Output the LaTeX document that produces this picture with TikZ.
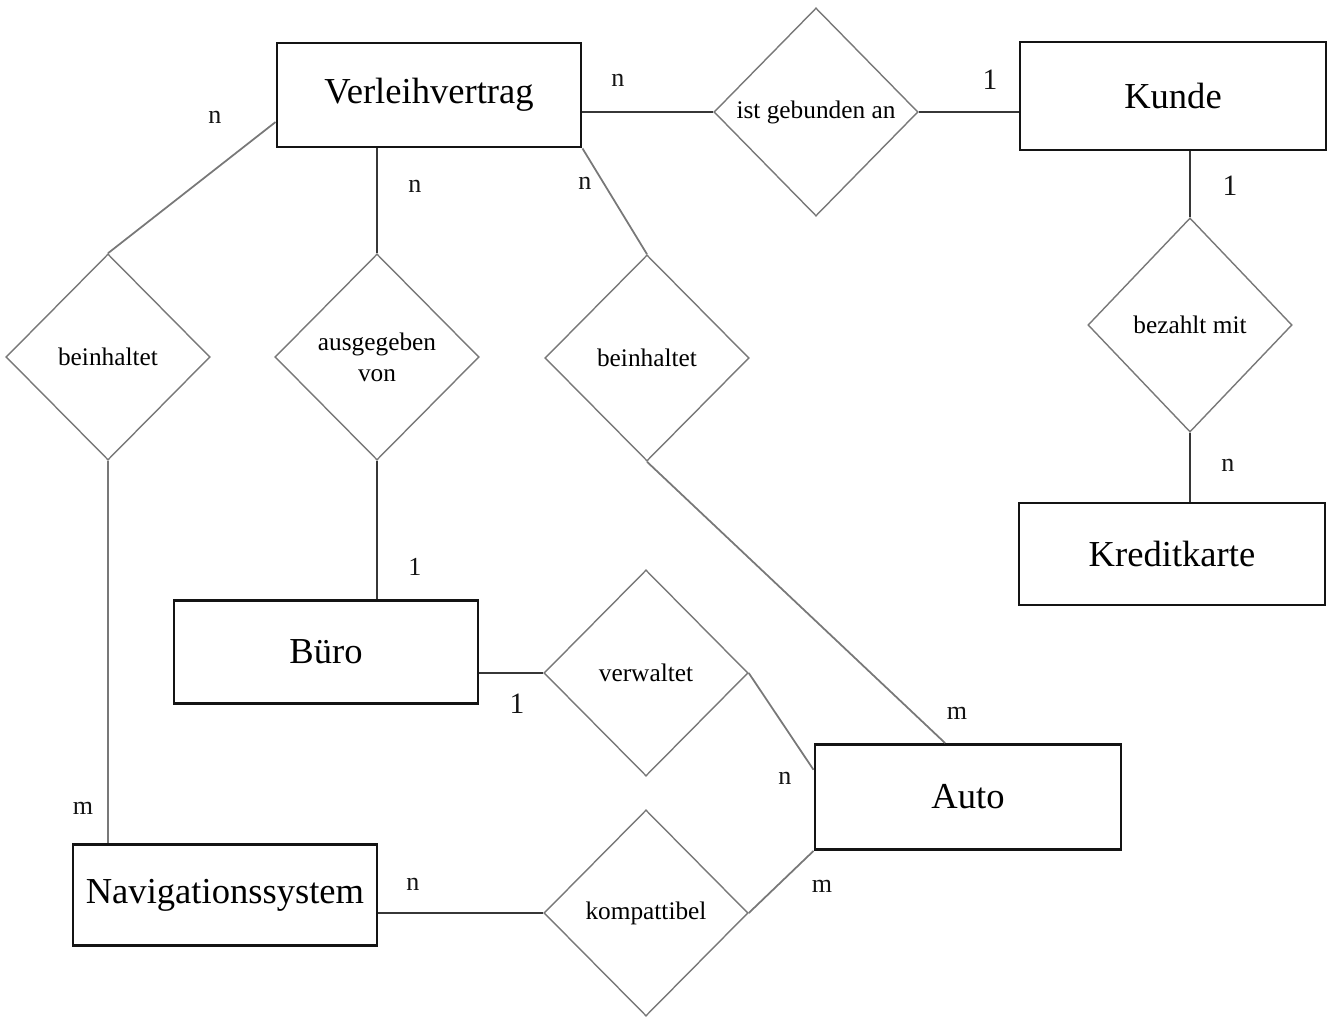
\documentclass[tikz,border=0pt]{standalone}
\usepackage{fontspec}
\setmainfont{Liberation Serif}
\usetikzlibrary{shapes.geometric}
\definecolor{ink}{RGB}{20,20,20}
\definecolor{faint}{RGB}{120,120,120}

\begin{document}
\begin{tikzpicture}[x=0.01cm,y=-0.01cm,
  entity/.style={draw=ink,line width=0.8pt,minimum width=3.04cm,minimum height=1.04cm,
    inner sep=0,font=\fontsize{10.4}{12}\selectfont},
  rel/.style={diamond,draw=faint,line width=0.4pt,minimum width=2.04cm,minimum height=2.06cm,
    inner sep=0,align=center,font=\fontsize{7.2}{8.8}\selectfont},
  card/.style={font=\fontsize{7.4}{9}\selectfont,text=ink,inner sep=0},
  solidline/.style={ink!85,line width=0.6pt},
  faintline/.style={faint,line width=0.5pt}]
    \useasboundingbox (0,0) rectangle (1335,1018);
    % entities
    \node[entity] (vertrag) at (429,95) {Verleihvertrag};
    \node[entity,minimum width=3.06cm,minimum height=1.08cm] (kunde) at (1173,96) {Kunde};
    \node[entity,minimum width=3.06cm,minimum height=1.02cm] (karte) at (1172,554) {Kreditkarte};
    \node[entity,minimum height=1.03cm] (buero) at (326,652) {Büro};
    \node[entity,minimum width=3.06cm,minimum height=1.05cm] (auto) at (968,797) {Auto};
    \node[entity,minimum height=1.01cm] (navi) at (225,895) {Navigationssystem};
    % relationships
    \node[rel,minimum height=2.08cm] (gebunden) at (816,112) {ist gebunden an};
    \node[rel,minimum height=2.14cm] (bezahlt) at (1190,325) {bezahlt mit};
    \node[rel] (inhalt1) at (108,357) {beinhaltet};
    \node[rel] (ausgabe) at (377,357) {ausgegeben\\von};
    \node[rel] (inhalt2) at (647,358) {beinhaltet};
    \node[rel] (verwaltet) at (646,673) {verwaltet};
    \node[rel] (kompatibel) at (646,913) {kompattibel};
    % connectors
    \draw[solidline] (gebunden.west) -- (gebunden.west -| vertrag.east);
    \draw[solidline] (gebunden.east) -- (gebunden.east -| kunde.west);
    \draw[solidline] (bezahlt.north) -- (bezahlt.north |- kunde.south);
    \draw[solidline] (bezahlt.south) -- (bezahlt.south |- karte.north);
    \draw[solidline] (ausgabe.north) -- (ausgabe.north |- vertrag.south);
    \draw[solidline] (ausgabe.south) -- (ausgabe.south |- buero.north);
    \draw[solidline] (verwaltet.west) -- (verwaltet.west -| buero.east);
    \draw[solidline] (kompatibel.west) -- (kompatibel.west -| navi.east);
    \draw[faintline] (inhalt1.south) -- (inhalt1.south |- navi.north);
    \draw[faintline] (vertrag.190) -- (inhalt1.north);
    \draw[faintline] (vertrag.south east) -- (inhalt2.north);
    \draw[faintline] (inhalt2.south) -- (auto.113);
    \draw[faintline] (verwaltet.east) -- (auto.170);
    \draw[faintline] (kompatibel.east) -- (auto.south west);
    % cardinalities
    \node[card] (c1) at (618,80) {n};
    \node[card,font=\fontsize{8.4}{10}\selectfont] (c2) at (990,80) {1};
    \node[card,font=\fontsize{8.4}{10}\selectfont] (c3) at (1230,186) {1};
    \node[card] (c4) at (1228,465) {n};
    \node[card] (c5) at (415,186) {n};
    \node[card] (c6) at (585,183) {n};
    \node[card] (c7) at (215,117) {n};
    \node[card] (c8) at (415,567) {1};
    \node[card,font=\fontsize{8.4}{10}\selectfont] (c9) at (517,704) {1};
    \node[card] (c10) at (785,778) {n};
    \node[card] (c11) at (957,713) {m};
    \node[card] (c12) at (83,808) {m};
    \node[card] (c13) at (413,884) {n};
    \node[card] (c14) at (822,886) {m};
\end{tikzpicture}
\end{document}
